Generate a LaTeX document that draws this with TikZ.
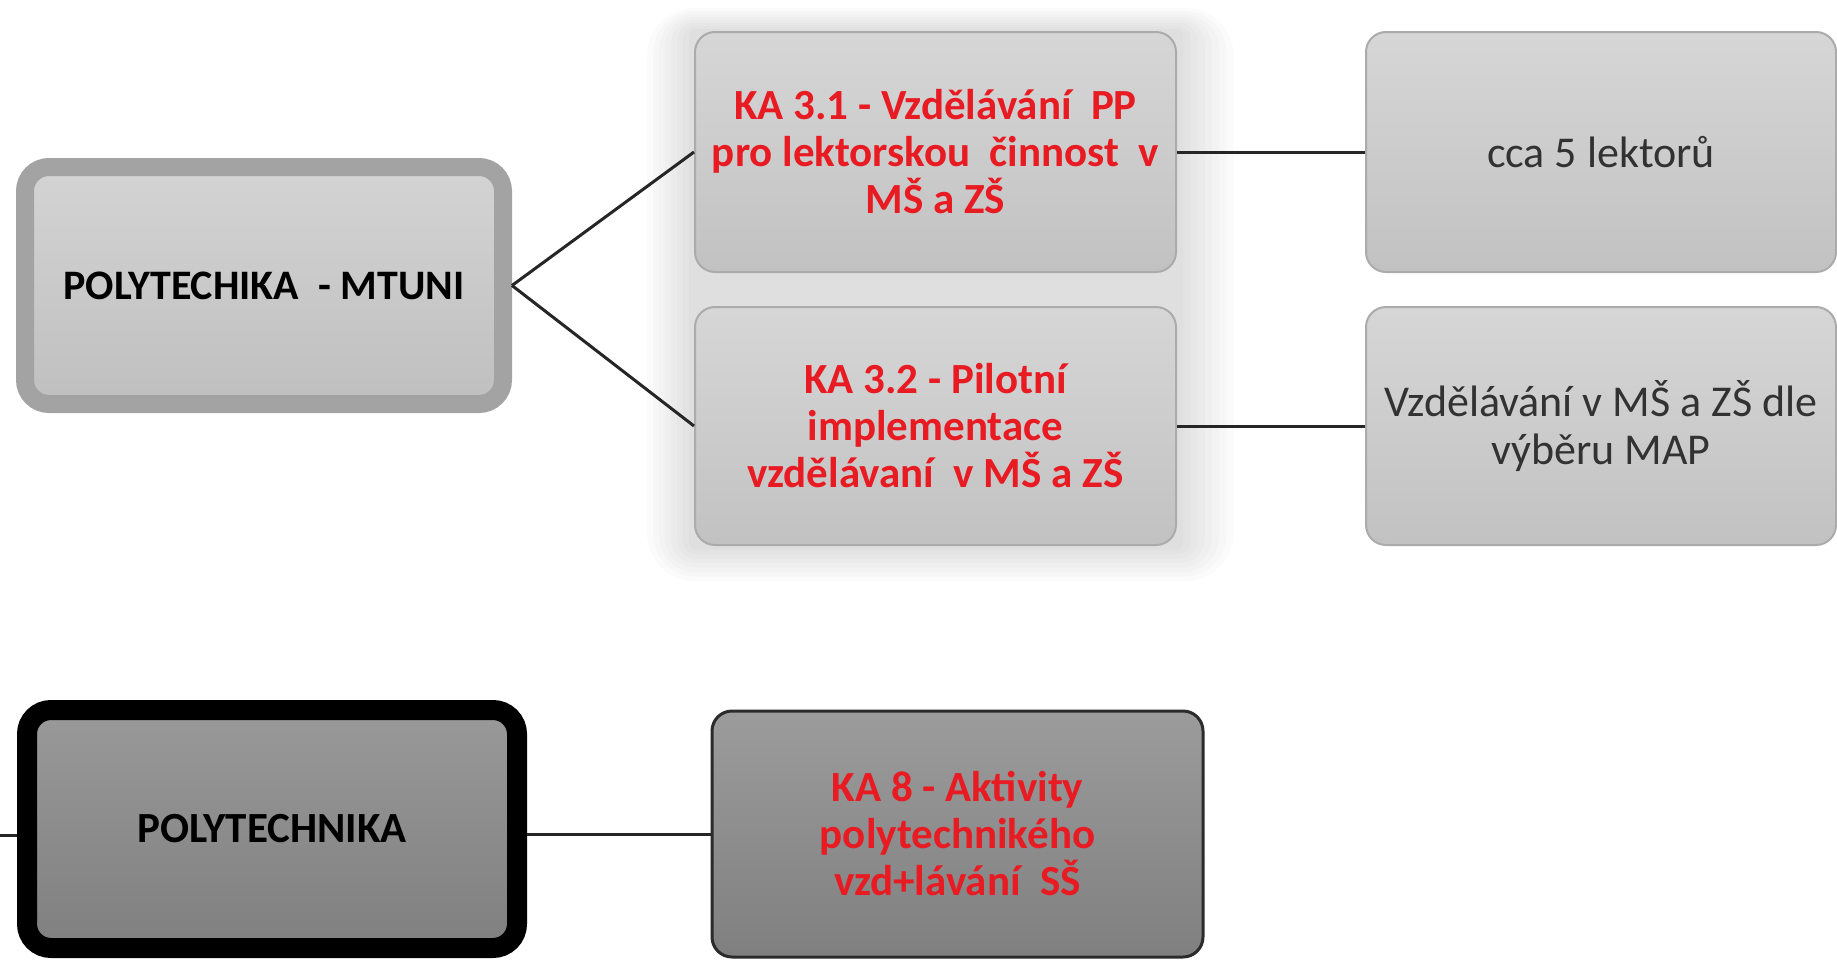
\documentclass[tikz,border=0pt]{standalone}
\usepackage{fontspec}
\setmainfont{Carlito}
\definecolor{kared}{RGB}{232,26,34}
\definecolor{ltext}{RGB}{50,50,50}
\tikzset{
  box/.style={rectangle, rounded corners=20pt, draw=black!33, line width=2pt,
    top color=black!16, bottom color=black!24, align=center,
    minimum width=481pt, minimum height=240pt, inner sep=0pt,
    font=\fontsize{44}{48}\selectfont},
  redtext/.style={text=kared, font=\fontsize{43}{47}\selectfont\bfseries},
  hub/.style={box, line width=18pt, rounded corners=24pt, draw=black!36,
    top color=black!17, bottom color=black!25, minimum width=478pt,
    minimum height=237pt, font=\fontsize{42}{46}\selectfont\bfseries},
  darkhub/.style={hub, line width=20pt, draw=black, top color=black!40,
    bottom color=black!50, minimum width=490pt, minimum height=238pt,
    font=\fontsize{43}{46}\selectfont\bfseries},
  darkbox/.style={box, redtext, line width=3pt, draw=black!83,
    top color=black!39, bottom color=black!50, minimum width=491pt,
    minimum height=246pt}
}
\begin{document}
\begin{tikzpicture}[x=1pt,y=-1pt]
      \useasboundingbox (0,0) rectangle (1837,961);
      \foreach \d in {6,12,...,48}
        \fill[black, opacity=0.014, rounded corners=\d pt]
          (695-\d, 32-0.5*\d) rectangle (1176+1.2*\d, 545+0.75*\d);
      \draw
        (264,285.5) node[hub] (mtuni){POLYTECHIKA~ - MTUNI}
        (935.5,152) node[box, redtext] (kaone){KA 3.1 - Vzdělávání~ PP\\pro lektorskou~ činnost~ v\\MŠ a ZŠ}
        (935.5,426) node[box, redtext, minimum height=238pt] (katwo){KA 3.2 - Pilotní\\implementace\\vzdělávaní~ v MŠ a ZŠ}
        (1601,152) node[box, text=ltext, minimum width=470pt] (lektori){cca 5 lektorů}
        (1601,426) node[box, text=ltext, minimum width=470pt, minimum height=238pt] (map){Vzdělávání v MŠ a ZŠ dle\\výběru MAP}
        (272,829) node[darkhub] (poly){POLYTECHNIKA}
        (957.5,834) node[darkbox] (kaeight){KA 8 - Aktivity\\polytechnikého\\vzd+lávání~ SŠ};
      \coordinate (stub) at (0,835);
      \begin{scope}[-, line width=3pt, draw=black!85]
        \draw (mtuni.east) to (kaone.west);
        \draw (mtuni.east) to (katwo.west);
        \draw (kaone) to (lektori);
        \draw (katwo) to (map);
        \draw (poly.east |- kaeight.west) to (kaeight.west);
        \draw (stub) to (poly.west |- stub);
      \end{scope}
    \end{tikzpicture}
\end{document}
